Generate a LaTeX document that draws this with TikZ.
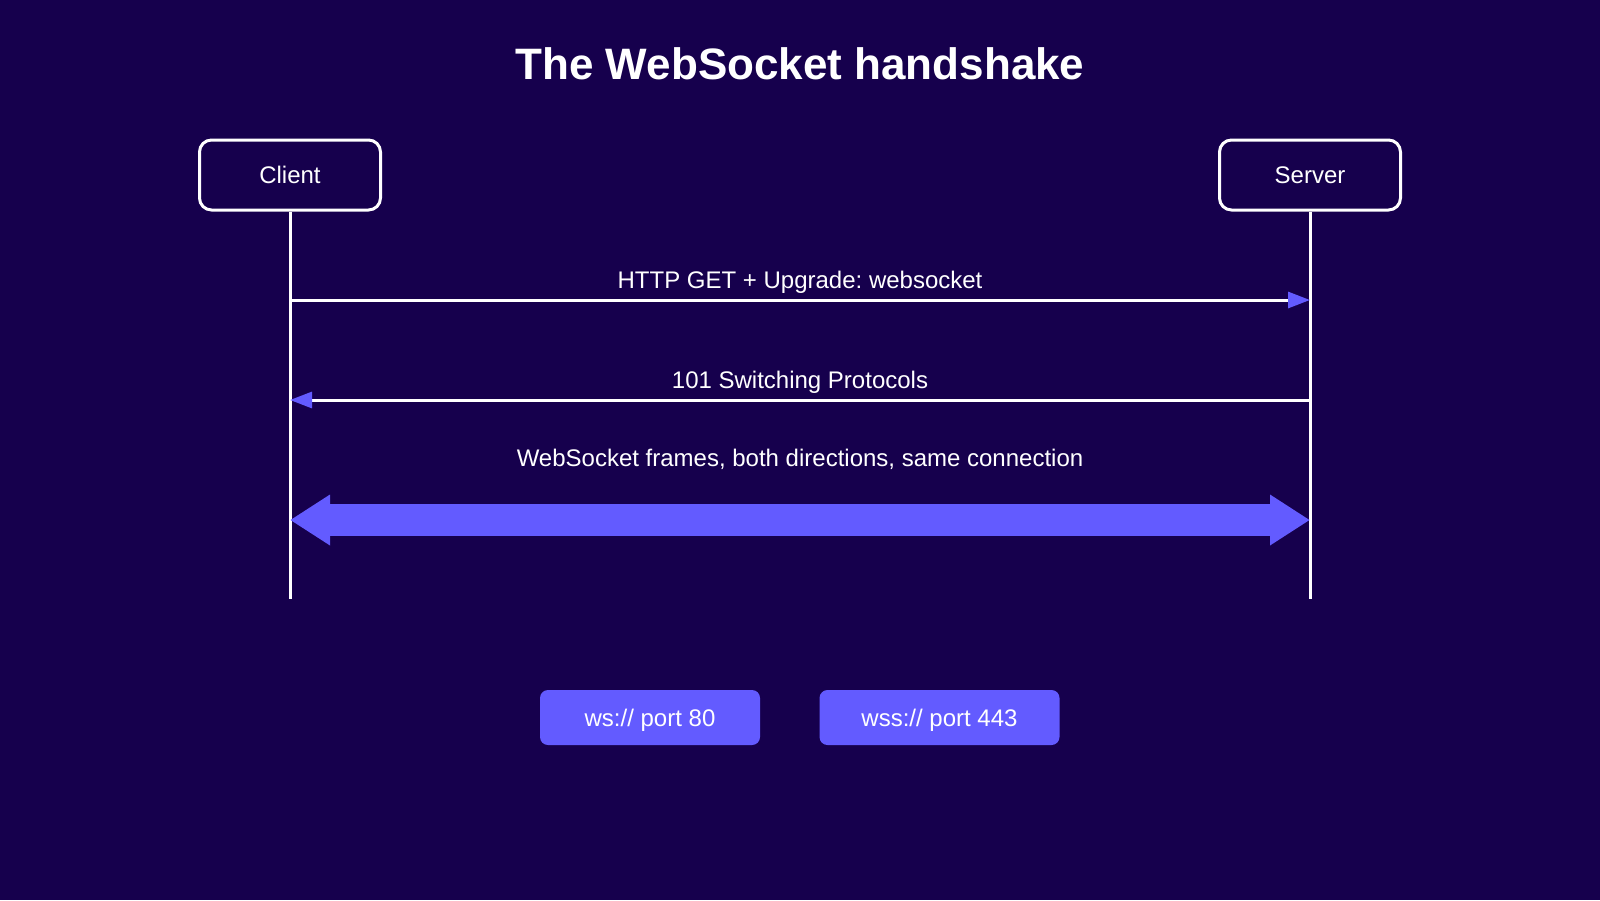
\documentclass[tikz,border=0pt]{standalone}
\usepackage{fontspec}
\setmainfont{Liberation Sans}
\usetikzlibrary{arrows.meta}
\definecolor{bg}{RGB}{22,0,77}
\definecolor{accent}{RGB}{99,91,255}
\frenchspacing
\begin{document}
\begin{tikzpicture}[x=1pt,y=-1pt,
  lbl/.style={text=white, font=\fontsize{24}{28}\selectfont, inner sep=0pt},
  actor/.style={draw=white, line width=3pt, rounded corners=12pt, minimum width=181pt, minimum height=70pt, text=white, font=\fontsize{24}{28}\selectfont, text height=17pt, text depth=0pt, inner sep=0pt},
  msg/.style={lbl, anchor=base},
  life/.style={draw=white, line width=3pt},
  call/.style={draw=white, line width=3pt, -{Triangle[length=22pt,width=16pt,color=accent]}},
  bigarrow/.style={draw=accent, line width=32pt, {Triangle[length=40pt,width=48pt]}-{Triangle[length=40pt,width=48pt]}},
  pill/.style={fill=accent, rounded corners=8pt, minimum height=55pt, text=white, font=\fontsize{24}{28}\selectfont, text height=17pt, text depth=0pt, inner sep=0pt}
]
\useasboundingbox (0,0) rectangle (1600,900);
\fill[bg] (0,0) rectangle (1600,900);

\node[text=white, font=\fontsize{44}{50}\selectfont\bfseries, anchor=base, inner sep=0pt] (title) at (800,79) {The WebSocket handshake};

\node[actor] (client) at (290,175) {Client};
\node[actor] (server) at (1310,175) {Server};

\coordinate (cbot) at (290,599);
\coordinate (sbot) at (1310,599);
\draw[life] (client.south) -- (cbot);
\draw[life] (server.south) -- (sbot);

\coordinate (c1) at (290,300);
\coordinate (s1) at (1310,300);
\coordinate (c2) at (290,400);
\coordinate (s2) at (1310,400);
\coordinate (c3) at (290,520);
\coordinate (s3) at (1310,520);

\draw[call] (c1) -- (s1);
\node[msg] (m1) at (800,288.5) {HTTP GET + Upgrade: websocket};
\draw[call] (s2) -- (c2);
\node[msg] (m2) at (800,388.5) {101 Switching Protocols};
\node[msg] (m3) at (800,466) {WebSocket frames, both directions, same connection};
\draw[bigarrow] (c3) -- (s3);

\node[pill, minimum width=220pt] (ws) at (650,717.5) {ws:// port 80};
\node[pill, minimum width=240pt] (wss) at (939.5,717.5) {wss:// port 443};
\end{tikzpicture}
\end{document}
